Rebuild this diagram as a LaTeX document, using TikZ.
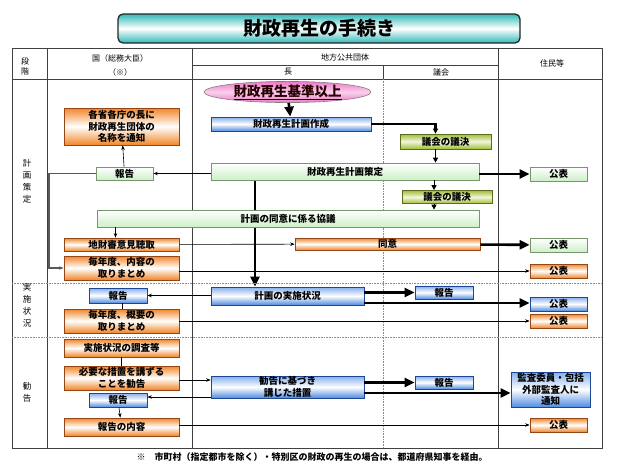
\documentclass[tikz,border=0pt]{standalone}
\usepackage{fontspec}
\setmainfont{Noto Sans CJK JP}
\usetikzlibrary{arrows.meta,shapes.geometric,backgrounds}

\definecolor{orfill}{RGB}{241,134,40}
\definecolor{oredge}{RGB}{150,70,20}
\definecolor{blfill}{RGB}{80,140,225}
\definecolor{bledge}{RGB}{30,70,150}
\definecolor{grfill}{RGB}{205,240,200}
\definecolor{gredge}{RGB}{120,150,110}
\definecolor{olfill}{RGB}{160,190,50}
\definecolor{oledge}{RGB}{90,110,30}
\definecolor{pkfill}{RGB}{238,120,200}
\definecolor{ttfill}{RGB}{50,185,185}

\begin{document}
\begin{tikzpicture}[x=1pt,y=-1pt,>={Stealth[length=4.5pt,width=3.5pt]},
  box/.style={draw,inner sep=0pt,align=center,line width=0.7pt,font=\fontsize{9.5}{11.5}\selectfont\bfseries},
  orbox/.style={box,draw=oredge,top color=orfill,bottom color=orfill,middle color=white},
  blbox/.style={box,draw=bledge,top color=blfill!70,bottom color=blfill,middle color=white},
  grbox/.style={box,draw=gredge,top color=white,bottom color=grfill},
  olbox/.style={box,draw=oledge,top color=olfill,bottom color=olfill,middle color=olfill!15},
  hd/.style={font=\fontsize{8}{10}\selectfont},
  stg/.style={align=center,font=\fontsize{8.5}{12}\selectfont},
  tline/.style={draw=black!75,line width=0.8pt},
  dline/.style={draw=black!45,line width=0.6pt,densely dotted},
  big/.style={line width=2.6pt,-{Triangle[length=10pt,width=9pt]}},
  thin/.style={line width=0.6pt,->}]
\useasboundingbox (0,0) rectangle (620,469);

% title
\node[draw=black!85,line width=1.3pt,rounded corners=5pt,top color=ttfill,bottom color=ttfill,middle color=white,
  minimum width=402pt,minimum height=29pt,font=\fontsize{19}{22}\selectfont\bfseries] (title) at (319,28.5) {財政再生の手続き};

% table
\draw[tline] (12,48) rectangle (602,448);
\draw[tline] (47,48) -- (47,448);
\draw[tline] (192,48) -- (192,448);
\draw[tline] (498,48) -- (498,448);
\draw[tline] (192,65) -- (498,65);
\draw[tline] (383,65) -- (383,79);
\draw[tline] (12,79) -- (602,79);
\draw[dline] (383,79) -- (383,448);
\draw[dline] (12,283) -- (602,283);
\draw[dline] (12,337) -- (602,337);

% headers
\node[hd,align=center] (hstage) at (25,66.5) {段\\階};
\node[hd] (hkuni) at (120,58) {国（総務大臣）};
\node[hd] (hkome) at (120,72) {（※）};
\node[hd] (hlocal) at (345,57) {地方公共団体};
\node[hd] (hchou) at (288,72) {長};
\node[hd] (hgikai) at (441,72) {議会};
\node[hd] (hjumin) at (552,63) {住民等};
\node[stg] (s1) at (27,181.5) {計\\画\\策\\定};
\node[stg] (s2) at (27,305.5) {実\\施\\状\\況};
\node[stg] (s3) at (27,392.5) {勧\\告};

% nodes
\node[ellipse,draw=black!50,line width=0.6pt,inner sep=0pt,top color=pkfill,bottom color=pkfill,middle color=pkfill!35,
  minimum width=167pt,minimum height=20pt,font=\fontsize{13.5}{15}\selectfont\bfseries,text=black!85!red] (start) at (287.5,92) {\underline{財政再生基準以上}};
\node[blbox,minimum width=160pt,minimum height=14pt] (make) at (291,124) {財政再生計画作成};
\node[olbox,minimum width=91pt,minimum height=15pt] (gik1) at (445.5,141.5) {議会の議決};
\node[grbox,minimum width=268pt,minimum height=17pt] (sakutei) at (345,171.5) {財政再生計画策定};
\node[grbox,minimum width=57pt,minimum height=14pt] (pub1) at (558.5,174) {公表};
\node[grbox,minimum width=57pt,minimum height=13pt] (rep1) at (124.5,173.5) {報告};
\node[orbox,minimum width=115pt,minimum height=37pt] (notify) at (121.5,126.5) {各省各庁の長に\\財政再生団体の\\名称を通知};
\node[olbox,minimum width=90pt,minimum height=13pt] (gik2) at (447,197) {議会の議決};
\node[grbox,minimum width=382pt,minimum height=17pt] (kyogi) at (288,218.5) {計画の同意に係る協議};
\node[orbox,minimum width=115pt,minimum height=13pt] (chizai) at (121.5,244.5) {地財審意見聴取};
\node[orbox,minimum width=185pt,minimum height=12pt] (doi) at (387.5,244) {同意};
\node[grbox,minimum width=57pt,minimum height=14pt] (pub2) at (558.5,245) {公表};
\node[orbox,minimum width=115pt,minimum height=24pt] (matome1) at (121.5,268) {毎年度、内容の\\取りまとめ};
\node[orbox,minimum width=57pt,minimum height=14pt] (pub3) at (558.5,271) {公表};

\node[blbox,minimum width=153pt,minimum height=18pt] (jisshi) at (287.5,296) {計画の実施状況};
\node[blbox,minimum width=58pt,minimum height=13pt] (rep2) at (444,292.5) {報告};
\node[blbox,minimum width=57pt,minimum height=14pt] (pub4) at (558.5,304) {公表};
\node[blbox,minimum width=58pt,minimum height=15pt] (rep3) at (118,295.5) {報告};
\node[orbox,minimum width=115pt,minimum height=24pt] (matome2) at (121.5,321) {毎年度、概要の\\取りまとめ};
\node[orbox,minimum width=57pt,minimum height=14pt] (pub5) at (558.5,321) {公表};

\node[orbox,minimum width=115pt,minimum height=18pt] (chosa) at (121.5,348) {実施状況の調査等};
\node[orbox,minimum width=115pt,minimum height=24pt] (kankoku) at (121.5,378) {必要な措置を講ずる\\ことを勧告};
\node[blbox,minimum width=153pt,minimum height=22pt] (sochi) at (287.5,387) {勧告に基づき\\講じた措置};
\node[blbox,minimum width=58pt,minimum height=13pt] (rep4) at (444,382.5) {報告};
\node[blbox,minimum width=79pt,minimum height=35pt] (kansa) at (550.5,389.5) {監査委員・包括\\外部監査人に\\通知};
\node[blbox,minimum width=58pt,minimum height=14pt] (rep5) at (118,400) {報告};
\node[orbox,minimum width=115pt,minimum height=18pt] (naiyo) at (121.5,427) {報告の内容};
\node[orbox,minimum width=57pt,minimum height=14pt] (pub6) at (558.5,425) {公表};

\node[font=\fontsize{9}{11}\selectfont\bfseries] (note) at (312,457) {※　市町村（指定都市を除く）・特別区の財政の再生の場合は、都道府県知事を経由。};

% connectors
\coordinate (lft) at (49,268);
\draw[big] (start) -- (make);
\draw[line width=2.6pt] (make.east) -| ([xshift=-10pt,yshift=4pt]gik1.north);
\draw[line width=0.8pt,-{Triangle[length=5pt,width=5pt]}] ([xshift=-10pt,yshift=4pt]gik1.north) -- ([xshift=-10pt]gik1.north);
\draw[line width=0.8pt,-{Triangle[length=5pt,width=5pt]}] ([xshift=-10pt]gik1.south) -- ([xshift=-10pt]gik1.south |- sakutei.north);
\draw[big] (sakutei.east |- pub1) -- (pub1.west);
\draw[thin] (sakutei.west |- rep1) -- (rep1.east);
\draw[thin] (rep1) -- (notify);
\draw[line width=1.3pt,draw=black!65,->] (rep1.west) -| (lft) -- (matome1.west);
\draw[line width=0.8pt,-{Triangle[length=5pt,width=5pt]}] ([xshift=-13pt]gik2.north |- sakutei.south) -- ([xshift=-13pt]gik2.north);
\draw[line width=0.8pt,-{Triangle[length=5pt,width=5pt]}] ([xshift=-13pt]gik2.south) -- ([xshift=-13pt]gik2.south |- kyogi.north);
\begin{scope}[on background layer]
\draw[big] ([xshift=-32.5pt]jisshi.north |- sakutei.south) -- ([xshift=-32.5pt]jisshi.north);
\end{scope}
\draw[thin] ([xshift=-6pt]chizai.north |- kyogi.south) -- ([xshift=-6pt]chizai.north);
\draw[thin] (chizai) -- (doi);
\draw[big] (doi) -- (pub2);
\draw[thin] (matome1.east |- pub3) -- (pub3.west);

\draw[big] (jisshi.east |- rep2) -- (rep2.west);
\draw[big] ([yshift=-7pt]jisshi.east) -- ([yshift=-7pt]jisshi.east -| pub4.west);
\draw[thin] (jisshi.west |- rep3) -- (rep3.east);
\draw[line width=0.6pt] ([xshift=4pt]rep3.south) -- ([xshift=4pt]rep3.south |- matome2.north);
\draw[thin] (matome2.east |- pub5) -- (pub5.west);

\draw[line width=0.6pt] (chosa) -- (kankoku);
\draw[thin] ([yshift=-2pt]kankoku.east) -- ([yshift=-2pt]kankoku.east -| sochi.west);
\draw[big] (sochi.east |- rep4) -- (rep4.west);
\draw[big] ([yshift=-6pt]sochi.east) -- ([yshift=-6pt]sochi.east -| kansa.west);
\draw[thin] ([yshift=-10pt]sochi.west) -- ([yshift=-10pt]sochi.west -| rep5.east);
\draw[thin] (rep5) -- (naiyo);
\draw[thin] (naiyo.east |- pub6) -- (pub6.west);
\end{tikzpicture}
\end{document}
